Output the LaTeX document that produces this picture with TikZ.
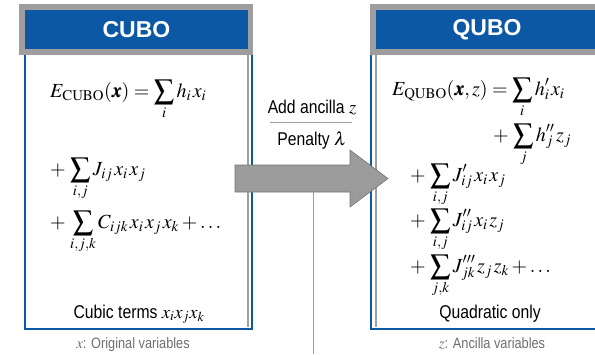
\documentclass[tikz,border=0pt]{standalone}
\usepackage{amsmath}
\usepackage{mathptmx}
\usepackage{bm}
\usepackage[no-math]{fontspec}
\setmainfont{Liberation Serif}
\setsansfont{Liberation Sans}
\newfontfamily\condsans[FakeStretch=0.85]{Liberation Sans}
\usetikzlibrary{positioning}
\definecolor{headblue}{RGB}{12,88,165}
\definecolor{framegrey}{RGB}{158,158,158}
\definecolor{arrowgrey}{RGB}{155,155,155}
\definecolor{labelgrey}{RGB}{110,110,110}
\newcommand{\fs}{\mkern1.5mu}
\tikzset{
  eqn/.style={anchor=base west, inner sep=0pt, font=\fontsize{20}{22}\selectfont},
  headtext/.style={text=white, font=\fontsize{23}{25}\selectfont\sffamily\bfseries},
  lbl/.style={anchor=base, inner sep=0pt, font=\fontsize{18.5}{20}\selectfont\condsans},
  varlbl/.style={anchor=base, inner sep=0pt, text=labelgrey, font=\fontsize{15}{17}\selectfont\condsans},
  bodyline/.style={headblue, line width=2.2pt},
  innerline/.style={framegrey, line width=1.2pt},
}
\begin{document}
\begin{tikzpicture}[x=1pt,y=-1pt]
    \useasboundingbox (0,0) rectangle (595,354);
    %, Left: CUBO box ---
    \fill[framegrey] (19,4) rectangle (253,55);
    \fill[headblue] (25,10) rectangle (248,49);
    \draw[bodyline] (25,55) -- (25,329) -- (252,329) -- (252,55);
    \draw[innerline] (248,55) -- (248,327);
    \node[headtext] (cubohead) at (136.5,30) {CUBO};
    \node[eqn] (ecubo) at (50,97) {$\displaystyle E_{\mathrm{CUBO}}(\bm{x}) = \sum_i h_i\fs x_i$};
    \node[eqn] (jterm) at (50,175) {$\displaystyle +\,\sum_{i,j} J_{ij}\fs x_i\fs x_j$};
    \node[eqn] (cterm) at (50,228) {$\displaystyle +\,\sum_{i,j,k} C_{ijk}\fs x_i\fs x_j\fs x_k + \ldots$};
    \node[lbl] (cubic) at (139,318) {Cubic terms $x_i x_j x_k$};
    \node[varlbl] (origvar) at (133,348) {$x$: Original variables};

    %, Right: QUBO box ---
    \fill[framegrey] (370,4) rectangle (600,55);
    \fill[headblue] (376,10) rectangle (600,49);
    \draw[bodyline] (371,55) -- (371,329) -- (600,329);
    \draw[innerline] (376,55) -- (376,327);
    \node[headtext] (qubohead) at (487,30) {QUBO};
    \node[eqn] (equbo) at (392,95) {$\displaystyle E_{\mathrm{QUBO}}(\bm{x}, z) = \sum_i h'_i\fs x_i$};
    \node[eqn] (hterm) at (493,141) {$\displaystyle +\,\sum_j h''_j\fs z_j$};
    \node[eqn] (jxx) at (410,181) {$\displaystyle +\,\sum_{i,j} J'_{ij}\fs x_i\fs x_j$};
    \node[eqn] (jxz) at (410,226) {$\displaystyle +\,\sum_{i,j} J''_{ij}\fs x_i\fs z_j$};
    \node[eqn] (jzz) at (410,272) {$\displaystyle +\,\sum_{j,k} J'''_{jk}\fs z_j\fs z_k + \ldots$};
    \node[lbl] (quadratic) at (490,318) {Quadratic only};
    \node[varlbl] (ancvar) at (492,348) {$z$: Ancilla variables};

    %, Middle: transformation ---
    \node[lbl] (addanc) at (312,113) {Add ancilla $z$};
    \node[lbl] (penalty) at (312,145) {Penalty $\lambda$};
    \draw[framegrey, line width=0.8pt] (270,122) -- (352,122);
    \fill[arrowgrey, draw=arrowgrey!75!black, line width=0.6pt]
      (235,165) -- (350,165) -- (350,150) -- (388,178.5) -- (350,207) -- (350,192) -- (235,192) -- cycle;
    \coordinate (arrowfoot) at (313,192);
    \coordinate (footend) at (313,354);
    \draw[framegrey, line width=0.8pt] (arrowfoot) -- (footend);
\end{tikzpicture}
\end{document}
